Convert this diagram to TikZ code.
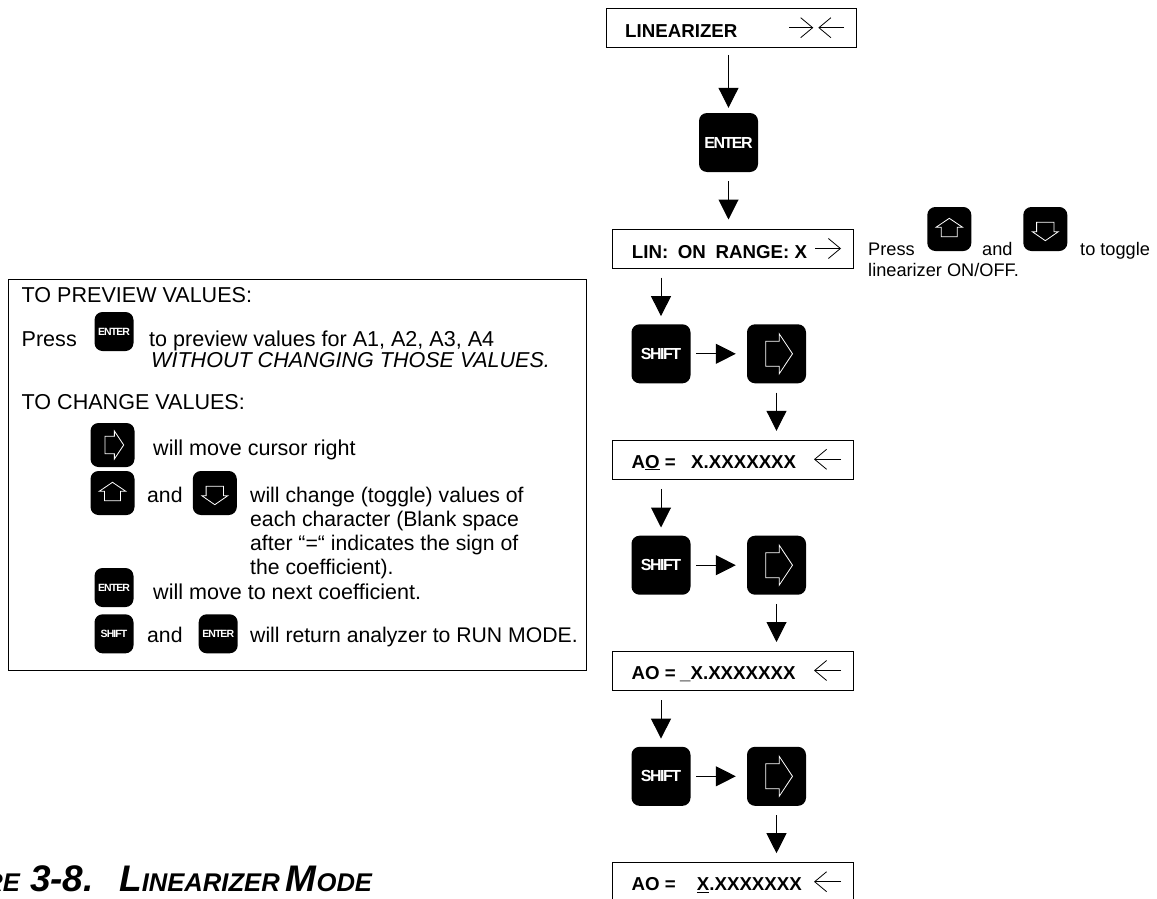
\documentclass[tikz,border=0pt]{standalone}
\usepackage{fontspec}
\setmainfont{Liberation Sans}
\newfontfamily\teclafont[LetterSpace=-9]{Liberation Sans}
\usetikzlibrary{arrows.meta}
\begin{document}
\begin{tikzpicture}[x=1pt,y=-1pt]
% estilos de linea y relleno
\tikzstyle{caja} = [draw=black,line width=1pt,fill=white,minimum width=240.5pt,minimum height=39pt,inner sep=0pt]
\tikzstyle{tecla} = [fill=black,rounded corners=8pt,inner sep=0pt,text=white]
\tikzstyle{grande} = [tecla,minimum size=59pt,font=\teclafont\fontsize{16}{16}\bfseries\selectfont]
\tikzstyle{media} = [tecla,minimum size=44pt]
\tikzstyle{chica} = [tecla,minimum size=39pt,font=\teclafont\fontsize{10.5}{10.5}\bfseries\selectfont]
\tikzstyle{flecha} = [line width=1pt,-{Triangle[width=20pt,length=20pt]},shorten <=7pt,shorten >=5pt]
\tikzstyle{flechita} = [line width=0.8pt,-{Straight Barb[width=20pt,length=12pt,line width=0.8pt]}]
\tikzstyle{icono} = [draw=white,line width=0.8pt]
\tikzstyle{rotulo} = [anchor=base west,inner sep=0pt,font=\fontsize{21.2}{24}\selectfont]
\tikzstyle{rotulob} = [anchor=base west,inner sep=0pt,font=\fontsize{21.55}{24}\selectfont]
\tikzstyle{nota} = [anchor=base west,inner sep=0pt,font=\fontsize{18.2}{20}\selectfont]
\tikzstyle{negrita} = [anchor=base west,inner sep=0pt,font=\fontsize{18.7}{20}\bfseries\selectfont]
% flecha blanca hacia la derecha
% #1: nombre de la tecla
% #2: escala
\newcommand{\icoder}[2]{
\begin{scope}[shift={(#1.center)},scale=#2]
\draw [icono] (-10.7,-12.5)--(2.7,-12.5)--(2.7,-20)--(16,0)--(2.7,20)--(2.7,12.5)--(-10.7,12.5)--cycle;
\end{scope}
}
% flecha blanca hacia arriba
% #1: nombre de la tecla
\newcommand{\icoarr}[1]{
\draw [icono,shift={(#1.center)}] (0,-10.7)--(13.3,-1.7)--(8,-1.7)--(8,7.7)--(-8,7.7)--(-8,-1.7)--(-13.3,-1.7)--cycle;
}
% flecha blanca hacia abajo
% #1: nombre de la tecla
\newcommand{\icoaba}[1]{
\draw [icono,shift={(#1.center)}] (-8.7,-6.7)--(8.7,-6.7)--(8.7,2.7)--(13,2.7)--(0,11.7)--(-13,2.7)--(-8.7,2.7)--cycle;
}
% caja con coeficiente
% #1: nombre de la caja
% #2: ordenada del centro de la caja
% #3: rotulo izquierdo
% #4: abscisa del valor
% #5: valor
\newcommand{\cajaao}[5]{
\node [caja] (#1) at (733.2,#2) {};
\node [negrita] (#1ao) at (631.5,#2+8.2) {#3};
\node [negrita] (#1val) at (#4,#2+8.2) {#5};
\coordinate (#1a) at (841,#2-0.5);
\coordinate (#1b) at (814,#2-0.5);
\draw [flechita] (#1a) -- (#1b);
}
% --------------------------------------
\useasboundingbox (0,0) rectangle (1157,899);
% --------------------------------------
% dibujar cajas de la derecha
\node [caja,minimum width=250pt] (cajalinear) at (731.7,27.8) {};
\node [negrita] (txtlinear) at (625,37.7) {LINEARIZER};
\coordinate (li) at (789.3,27.7);
\coordinate (lc) at (813.3,27.7);
\coordinate (ld) at (844,27.7);
\coordinate (le) at (818.3,27.7);
\draw [flechita] (li) -- (lc);
\draw [flechita] (ld) -- (le);
\node [caja] (cajalin) at (733.2,248.5) {};
\node [negrita] (txtlin) at (631.7,258.3) {LIN:\hspace{4.5pt} ON\hspace{4.5pt} RANGE: X};
\coordinate (lina) at (815,248.5);
\coordinate (linb) at (841,248.5);
\draw [flechita] (lina) -- (linb);
\cajaao{cajauno}{459.8}{A\underline{O} =}{691}{X.XXXXXXX}
\cajaao{cajados}{671}{AO =}{680}{\_X.XXXXXXX}
\cajaao{cajatres}{882.2}{AO =}{696.7}{\underline{X}.XXXXXXX}
% dibujar teclas de la derecha
\node [grande] (enter) at (728.5,142.5) {ENTER};
\draw [flecha] (cajalinear.south -| enter) -- (enter.north);
\draw [flecha,shorten <=9pt,shorten >=9pt] (enter.south) -- (cajalin.north -| enter);
\foreach \n/\yy/\ant/\sig in {1/353.8/cajalin/cajauno,2/565.2/cajauno/cajados,3/776.3/cajados/cajatres}{
\node [grande] (shift\n) at (661,\yy) {SHIFT};
\node [grande] (der\n) at (776.5,\yy) {};
\icoder{der\n}{1}
\draw [flecha,shorten <=9pt,shorten >=8pt] (\ant.south -| shift\n) -- (shift\n.north);
\draw [flecha,shorten <=5.5pt,shorten >=11pt] (shift\n.east) -- (der\n.west);
\draw [flecha,shorten <=9pt,shorten >=9pt] (der\n.south) -- (\sig.north -| der\n);
}
% dibujar nota de la derecha
\node [nota] (notaa) at (868,255) {Press};
\node [media] (notaarr) at (949.3,229) {};
\icoarr{notaarr}
\node [nota] (notab) at (982,255) {and};
\node [media] (notaaba) at (1045.3,229) {};
\icoaba{notaaba}
\node [nota] (notac) at (1080,255) {to toggle};
\node [nota] (notad) at (868,276) {linearizer ON/OFF.};
% dibujar recuadro de la izquierda
\node [draw=black,line width=1pt,minimum width=578pt,minimum height=391pt,inner sep=0pt] (recuadro) at (297.5,474.5) {};
\node [rotulob] (prevtit) at (21.5,302) {TO PREVIEW VALUES:};
\node [rotulob] (prevpress) at (21.5,346.5) {Press};
\node [chica] (preventer) at (114,331.5) {ENTER};
\node [rotulob] (prevuno) at (149,346) {to preview values for A1, A2, A3, A4};
\node [rotulob] (prevdos) at (151,367) {\itshape WITHOUT CHANGING THOSE VALUES.};
\node [rotulob] (cambtit) at (21.5,409) {TO CHANGE VALUES:};
\node [media] (cambder) at (112.5,445) {};
\icoder{cambder}{0.7}
\node [rotulob] (cambcur) at (153,455) {will move cursor right};
\node [media] (cambarr) at (112.5,493) {};
\icoarr{cambarr}
\node [rotulo] (cambyuno) at (147,502.7) {and};
\node [media] (cambaba) at (214.8,493) {};
\icoaba{cambaba}
\node [rotulo] (cambuno) at (250,502.7) {will change (toggle) values of};
\node [rotulo] (cambdos) at (250,526.7) {each character (Blank space};
\node [rotulo] (cambtres) at (250,550.7) {after “=“ indicates the sign of};
\node [rotulo] (cambcua) at (250,574.3) {the coefficient).};
\node [chica] (cambenter) at (114,587.5) {ENTER};
\node [rotulob] (cambsig) at (153,599) {will move to next coefficient.};
\node [chica] (cambshift) at (114,633.8) {SHIFT};
\node [rotulo] (cambydos) at (147,642.7) {and};
\node [chica] (cambentdos) at (218.2,633.8) {ENTER};
\node [rotulo] (cambfin) at (250,642.7) {will return analyzer to RUN MODE.};
% dibujar titulo
\newcommand{\versal}[2]{{\fontsize{37}{37}\selectfont #1}{\fontsize{25.6}{26}\selectfont #2}}
\node [anchor=base east,inner sep=0pt,font=\bfseries\itshape] (titnum) at (94,891.7) {\versal{F}{IGURE}\hspace{10pt}\versal{3-8.}{}};
\node [anchor=base west,inner sep=0pt,font=\bfseries\itshape] (titnom) at (119,891.7) {\versal{L}{INEARIZER}\hspace{6pt}\versal{M}{ODE}};
% --------------------------------------
\end{tikzpicture}
\end{document}
